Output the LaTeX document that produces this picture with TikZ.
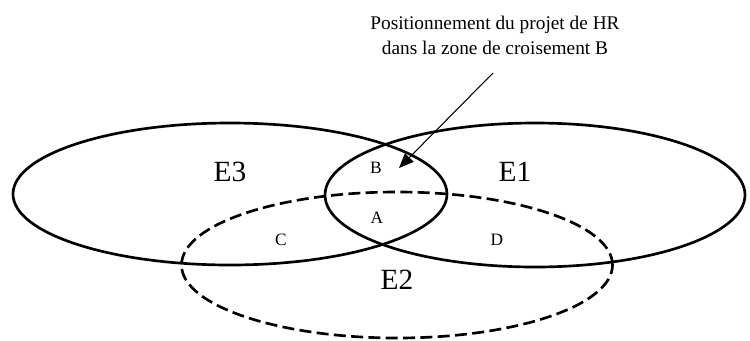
\documentclass[tikz,border=0pt]{standalone}
\usepackage{fontspec}
\setmainfont{Liberation Serif}
\usetikzlibrary{arrows.meta,shapes.geometric}

\begin{document}
\begin{tikzpicture}[x=0.75pt, y=-0.75pt,
    set/.style={draw, ellipse, line width=2pt, inner sep=0pt},
    dashedset/.style={set, dash pattern=on 9pt off 4pt},
    setname/.style={font=\fontsize{22}{26}\selectfont},
    zone/.style={font=\fontsize{13}{15}\selectfont},
    note/.style={align=center, inner sep=0pt, font=\fontsize{14.5}{18.75}\selectfont},
    pointer/.style={-{Triangle[length=11pt, width=9pt]}, line width=0.8pt}
  ]
    \useasboundingbox (0,0) rectangle (750,340);

    % the three sets
    \node[set, minimum width=325.5pt, minimum height=106.5pt] (e3) at (230,194) {};
    \node[set, minimum width=315pt, minimum height=108pt] (e1) at (535,195) {};
    \node[dashedset, minimum width=323.25pt, minimum height=109.5pt] (e2) at (397,265) {};

    \node[setname] (n3) at (230,172) {E3};
    \node[setname] (n1) at (515,172) {E1};
    \node[setname] (n2) at (397,280) {E2};

    % crossing zones
    \node[zone] (zb) at (376,168) {B};
    \node[zone] (za) at (377,218) {A};
    \node[zone] (zc) at (281,240) {C};
    \node[zone] (zd) at (497,240) {D};

    % comment on zone B
    \node[note] (comment) at (495,35) {Positionnement du projet de HR\\dans la zone de croisement B};
    \coordinate (tail) at (493,73);
    \coordinate (tip) at (399,168);
    \draw[pointer] (tail) -- (tip);
\end{tikzpicture}
\end{document}
